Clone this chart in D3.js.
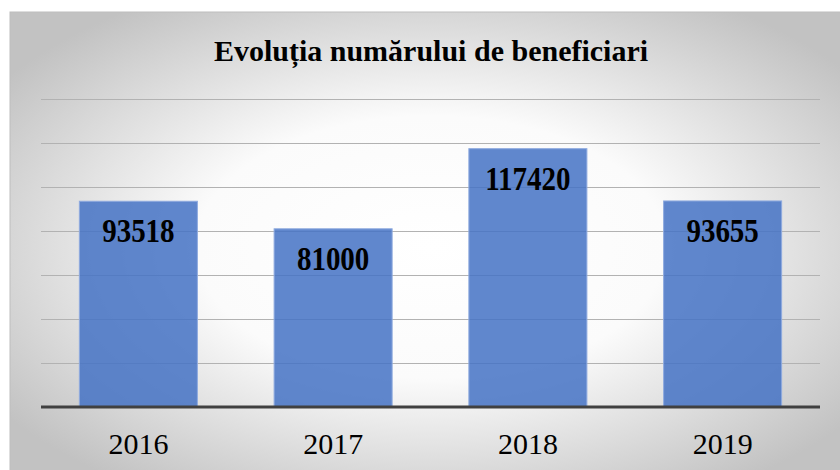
<!DOCTYPE html>
<html>
<head>
<meta charset="utf-8">
<script src="https://cdn.jsdelivr.net/npm/d3@7"></script>
<style>
  body { margin: 0; background: #fff; }
  text { font-family: "Liberation Serif", "Times New Roman", serif; }
</style>
</head>
<body>
<div class="chart"></div>
<script>
// ---------------------- DATA
var years = ["2016", "2017", "2018", "2019"];
var beneficiari = [93518, 81000, 117420, 93655];
var gridValues = [20000, 40000, 60000, 80000, 100000, 120000, 140000];
var chartTitle = "Evoluția numărului de beneficiari";

var width = 840, height = 470;
var margin = {left: 41, right: 20, top: 99, bottom: 63};

var svg = d3.select(".chart").append("svg")
  .attr("width", width)
  .attr("height", height);

// background gradient (white centre, grey edges)
var defs = svg.append("defs");
var grad = defs.append("radialGradient")
  .attr("id", "bg")
  .attr("cx", "50%").attr("cy", "50%")
  .attr("r", "62%");
grad.append("stop").attr("offset", "0%").attr("stop-color", "#ffffff");
grad.append("stop").attr("offset", "45%").attr("stop-color", "#fbfbfb");
grad.append("stop").attr("offset", "100%").attr("stop-color", "#c2c2c2");

svg.append("rect")
  .attr("x", 10).attr("y", 12)
  .attr("width", 842).attr("height", 470)
  .attr("fill", "url(#bg)")
  .attr("stroke", "#bdbdbd")
  .attr("stroke-width", 1);

// ---------------------- SCALES
var x = d3.scaleBand()
  .domain(years)
  .range([margin.left, width - margin.right])
  .paddingInner(0.394)
  .paddingOuter(0.197);

var y = d3.scaleLinear()
  .domain([0, 140000])
  .range([height - margin.bottom, margin.top]);

// gridlines
svg.append("g")
  .selectAll("line")
  .data(gridValues)
  .enter().append("line")
  .attr("x1", margin.left)
  .attr("x2", width - margin.right)
  .attr("y1", function(d){ return Math.round(y(d)) + 0.5; })
  .attr("y2", function(d){ return Math.round(y(d)) + 0.5; })
  .attr("stroke", "#b2b2b2")
  .attr("stroke-width", 1);

// bars
svg.append("g")
  .selectAll("rect")
  .data(beneficiari)
  .enter().append("rect")
  .attr("x", function(d, i){ return x(years[i]); })
  .attr("y", function(d){ return y(d); })
  .attr("width", x.bandwidth())
  .attr("height", function(d){ return y(0) - y(d); })
  .attr("fill", "#4472c4")
  .attr("fill-opacity", 0.85)
  .attr("stroke", "#8eaadf")
  .attr("stroke-width", 1);

// value labels (slightly taller than wide, like the original)
svg.append("g")
  .selectAll("text")
  .data(beneficiari)
  .enter().append("text")
  .attr("transform", function(d, i){
    return "translate(" + (x(years[i]) + x.bandwidth() / 2) + "," + (y(d) + 41) + ") scale(1,1.13)";
  })
  .attr("text-anchor", "middle")
  .attr("font-size", "29px")
  .attr("font-weight", "bold")
  .attr("fill", "#000")
  .text(function(d){ return d; });

// x axis
var xAxis = d3.axisBottom(x).tickSize(0).tickPadding(26);
var axisG = svg.append("g")
  .attr("class", "axis x")
  .attr("transform", "translate(0," + y(0) + ")")
  .call(xAxis);
axisG.select(".domain")
  .attr("d", "M" + margin.left + ",0H" + (width - margin.right))
  .attr("stroke", "#404040")
  .attr("stroke-width", 3);
axisG.selectAll("text")
  .attr("font-size", "30px")
  .attr("font-family", "Liberation Serif, Times New Roman, serif")
  .attr("fill", "#000");

// title
svg.append("text")
  .attr("x", 431)
  .attr("y", 61)
  .attr("text-anchor", "middle")
  .attr("font-size", "30px")
  .attr("font-weight", "bold")
  .attr("fill", "#000")
  .text(chartTitle);
</script>
</body>
</html>
